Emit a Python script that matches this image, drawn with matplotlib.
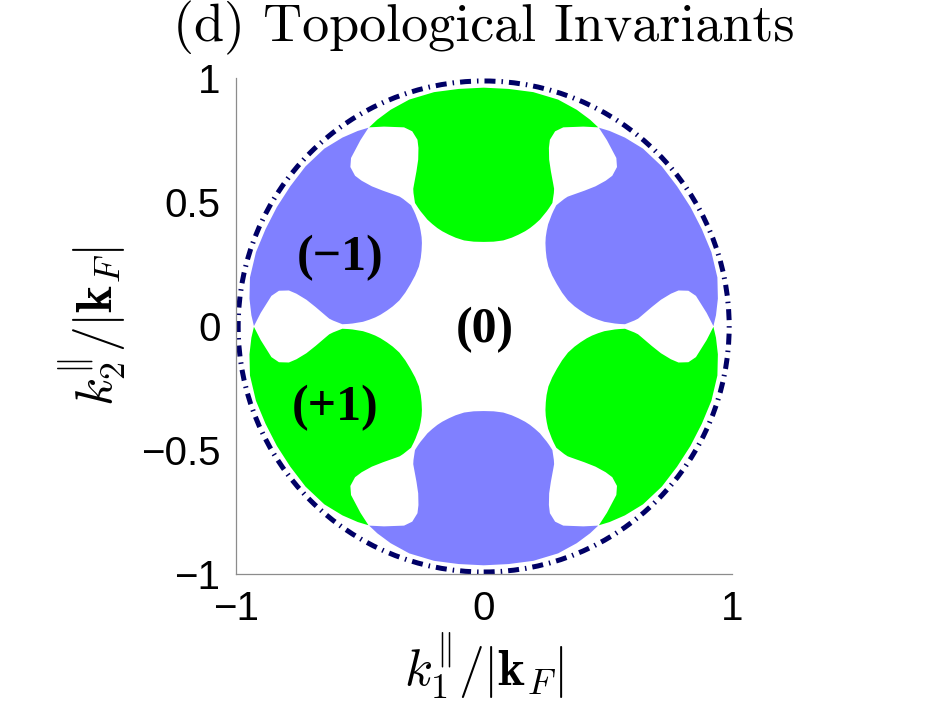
import numpy as np
import matplotlib
matplotlib.use("Agg")
import matplotlib.pyplot as plt
from matplotlib.patches import Polygon, Circle
from matplotlib.transforms import Affine2D

plt.rcParams['mathtext.fontset'] = 'cm'

# right half of the top (+1) lobe, traced clockwise from the top centre
# (outer arc -> white neck -> edge of the central (0) region)
half_x = np.array([0.000, 0.100, 0.200, 0.300, 0.375, 0.429, 0.462,
                   0.402, 0.321, 0.288, 0.267, 0.263, 0.264, 0.271,
                   0.281, 0.284, 0.283, 0.277, 0.264, 0.254, 0.240,
                   0.227, 0.207, 0.187, 0.167, 0.140, 0.113, 0.079,
                   0.040, 0.000])
half_y = np.array([0.963, 0.958, 0.945, 0.915, 0.874, 0.834, 0.803,
                   0.806, 0.803, 0.787, 0.753, 0.720, 0.673, 0.626,
                   0.572, 0.555, 0.538, 0.498, 0.478, 0.464, 0.447,
                   0.431, 0.413, 0.397, 0.384, 0.370, 0.358, 0.347,
                   0.342, 0.341])

# the six lobes sit every 60 deg, alternating invariant
lobe_angles = [0, 60, 120, 180, 240, 300]
lobe_values = [+1, -1, +1, -1, +1, -1]
colors = {+1: '#00ff00', -1: '#8080ff'}

labels = ['(\u22121)', '(+1)', '(0)']
label_x = [-0.58, -0.60, 0.005]
label_y = [0.275, -0.33, -0.015]

xticks = [-1, 0, 1]
xticklabels = ['\u22121', '0', '1']
yticks = [-1, -0.5, 0, 0.5, 1]
yticklabels = ['\u22121', '\u22120.5', '0', '0.5', '1']

fig = plt.figure(figsize=(9.36, 7.05), dpi=100)
ax = fig.add_axes([0.2518, 0.1844, 0.5299, 0.7050])

lobe_x = np.concatenate([half_x, -half_x[::-1]])
lobe_y = np.concatenate([half_y, half_y[::-1]])
lobe = np.column_stack([lobe_x, lobe_y])

for ang, val in zip(lobe_angles, lobe_values):
    tr = Affine2D().rotate_deg(ang) + ax.transData
    ax.add_patch(Polygon(lobe, closed=True, facecolor=colors[val],
                         edgecolor='none', transform=tr))

# Fermi circle
ax.add_patch(Circle((0, 0), 0.99, fill=False, edgecolor='#000066', lw=3.6,
                    linestyle=(0, (2.2, 1.2, 0.3, 1.2))))

for s, x, y in zip(labels, label_x, label_y):
    ax.text(x, y, s, ha='center', va='center', fontsize=36,
            fontfamily='Liberation Serif', fontweight='bold')

ax.set_xlim(-1, 1)
ax.set_ylim(-1, 1)
ax.set_aspect('equal')

ax.set_xticks(xticks)
ax.set_xticklabels(xticklabels)
ax.set_yticks(yticks)
ax.set_yticklabels(yticklabels)
for t in ax.get_xticklabels() + ax.get_yticklabels():
    t.set_fontfamily('Liberation Sans')
    t.set_fontsize(29)
ax.tick_params(length=0, pad=11)

for side in ['top', 'right']:
    ax.spines[side].set_visible(False)
for side in ['left', 'bottom']:
    ax.spines[side].set_color('#8c8c8c')
    ax.spines[side].set_linewidth(0.9)

ax.set_xlabel(r'$k_1^{\Vert}/|\mathbf{k}_F|$', fontsize=37, labelpad=2)
ax.set_ylabel(r'$k_2^{\Vert}/|\mathbf{k}_F|$', fontsize=37, labelpad=9)
ax.set_title('(d) Topological Invariants', fontfamily='cmr10', fontsize=39,
             pad=27)

fig.savefig('out.png', dpi=100)
